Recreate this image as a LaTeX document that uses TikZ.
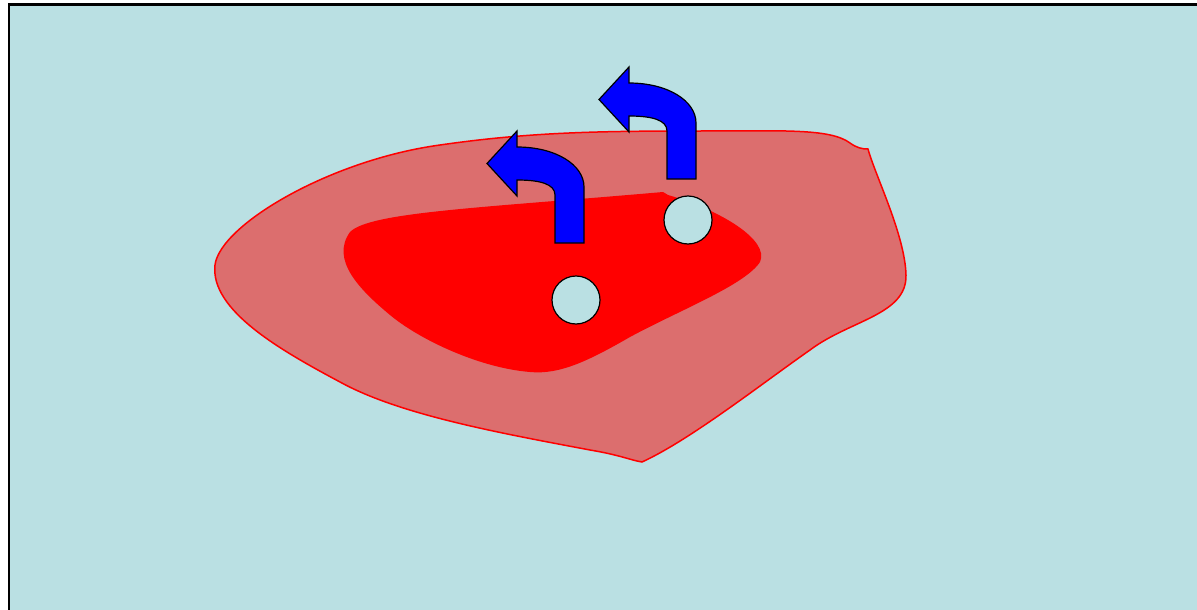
\documentclass[tikz,border=0pt]{standalone}
\usepackage{tikz}
\definecolor{bgblue}{RGB}{186,224,227}
\definecolor{outerred}{RGB}{220,110,110}
\tikzset{
  uturn/.style={fill=blue,draw=black,line width=1.2pt,line join=miter},
  hole/.style={circle,fill=bgblue,draw=black,line width=1.2pt,minimum size=48pt,inner sep=0pt},
  outerzone/.style={fill=outerred,draw=red,line width=1.5pt},
  innerzone/.style={fill=red}
}
\begin{document}
\begin{tikzpicture}[x=1pt,y=-1pt]
\useasboundingbox (0,0) rectangle (1197,610);
\begin{scope}
\clip (0,0) rectangle (1197,610);
\draw[fill=bgblue,line width=2.3pt] (9,4.5) rectangle (1220,640);
\end{scope}
% outer zone
\draw[outerzone] (868,149) .. controls (875,175) and (905,235) .. (906,275)
  .. controls (907,315) and (850,320) .. (810,350)
  .. controls (760,385) and (690,440) .. (642,462)
  .. controls (630,460) and (620,455) .. (590,450)
  .. controls (500,433) and (400,415) .. (340,382)
  .. controls (280,350) and (210,310) .. (215,265)
  .. controls (220,225) and (330,160) .. (440,145)
  .. controls (530,132) and (600,131) .. (700,131)
  .. controls (780,131) and (830,128) .. (850,143)
  .. controls (857,148) and (862,149) .. (868,149) -- cycle;
% inner zone
\fill[innerzone] (663,192) -- (668,195) .. controls (720,210) and (770,240) .. (760,262)
  .. controls (745,285) and (680,310) .. (630,337)
  .. controls (590,360) and (560,375) .. (530,372)
  .. controls (480,368) and (420,340) .. (390,315)
  .. controls (360,290) and (330,260) .. (350,232)
  .. controls (370,212) and (480,208) .. (663,192) -- cycle;
% holes
\node[hole] (h1) at (576,300) {};
\node[hole] (h2) at (688,220) {};
% arrows
\foreach \dx/\dy in {0/0, 112/-64}{
\begin{scope}[shift={(\dx,\dy)}]
\draw[uturn] (555,243) -- (584,243) -- (584,187)
  .. controls (584,165) and (556,147) .. (517,147)
  -- (517,131) -- (487,163.5) -- (517,196) -- (517,180)
  .. controls (540,180) and (555,184) .. (555,195) -- cycle;
\end{scope}
}
\end{tikzpicture}
\end{document}
